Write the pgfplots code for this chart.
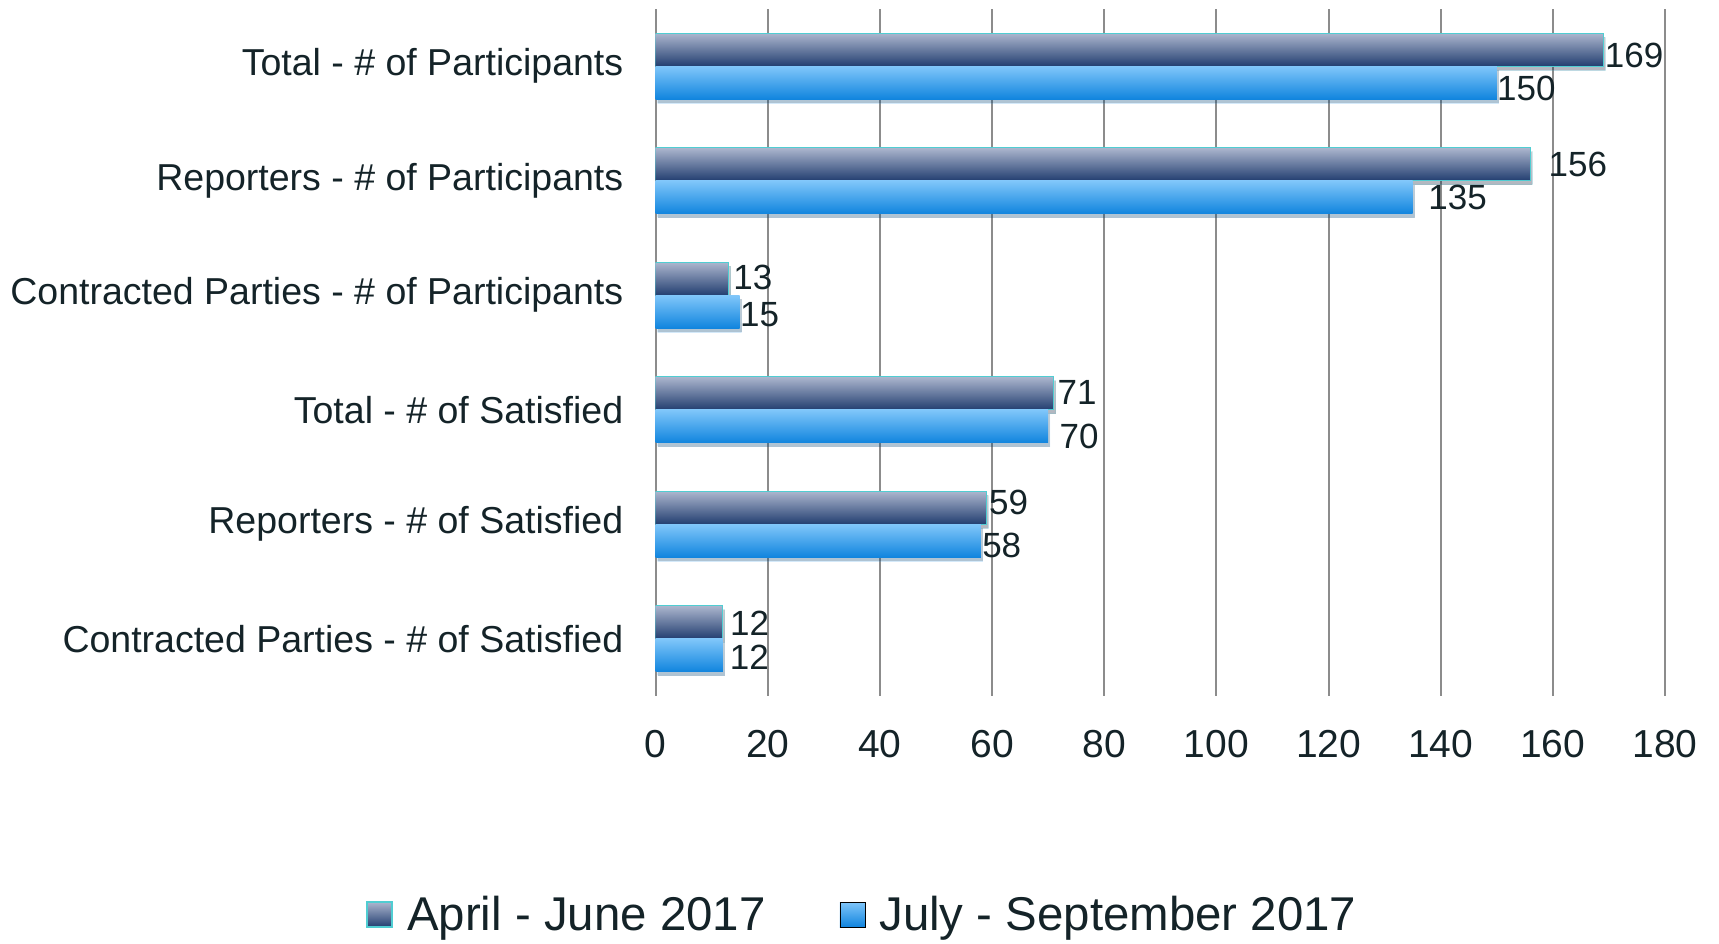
\documentclass[border=0pt]{standalone}
\usepackage{pgfplots}
\pgfplotsset{compat=1.18}
\usepackage{fontspec}
\setmainfont{Liberation Sans}
\definecolor{txt}{RGB}{20,35,40}
\definecolor{gridc}{RGB}{140,140,140}
\definecolor{aTop}{RGB}{172,182,206}
\definecolor{aBot}{RGB}{34,62,112}
\definecolor{aEdge}{RGB}{80,205,210}
\definecolor{bTop}{RGB}{128,198,250}
\definecolor{bBot}{RGB}{16,132,222}
\pgfplotsset{
  shad/.style={preaction={fill=black, opacity=0.18, transform canvas={xshift=1pt,yshift=-2pt}}},
  barA/.style={xbar, bar width=16.5pt, bar shift=8.25pt, draw=aEdge, line width=0.6pt, top color=aTop, bottom color=aBot, shad, forget plot},
  barB/.style={xbar, bar width=16.5pt, bar shift=-8.25pt, draw=none, top color=bTop, bottom color=bBot, shad, forget plot},
}

\begin{document}
\begin{tikzpicture}
\begin{axis}[
  at={(327.8pt,123.5pt)}, anchor=south west,
  scale only axis,
  width=504.7pt, height=343.5pt,
  xmin=0, xmax=180,
  ymin=-0.5, ymax=5.5,
  y dir=reverse,
  xtick={0,20,...,180},
  ytick={0,1,2,3,4,5},
  yticklabels={Total - \# of Participants, Reporters - \# of Participants, Contracted Parties - \# of Participants, Total - \# of Satisfied, Reporters - \# of Satisfied, Contracted Parties - \# of Satisfied},
  major tick length=0pt,
  axis line style={draw=none},
  xmajorgrids,
  grid style={gridc, line width=1pt},
  /pgf/number format/assume math mode=true,
  xticklabel style={font=\fontsize{19.5}{22}\selectfont, text=txt, inner sep=0pt, yshift=-17pt},
  yticklabel style={font=\fontsize{18.75}{22}\selectfont, text=txt, inner sep=0pt, xshift=-16pt, yshift=0pt},
  nodes near coords,
  point meta=x,
  every node near coord/.append style={font=\fontsize{17.5}{21}\selectfont, text=txt, anchor=west, inner sep=0pt},
  legend image code/.code={\path[#1,/tikz/.cd] (0pt,-6pt) rectangle (12.5pt,6.5pt);},
  legend style={draw=none, fill=none, font=\fontsize{23.7}{27}\selectfont, text=txt,
    legend columns=2,
    at={(axis description cs:0.5,0)}, anchor=center, xshift=-148.5pt, yshift=-109.5pt,
    /tikz/every odd column/.append style={column sep=5pt},
    /tikz/every even column/.append style={column sep=35pt}},
]
\addlegendimage{draw=aEdge, line width=0.9pt, top color=aTop, bottom color=aBot}
\addlegendentry{April - June 2017}
\addlegendimage{top color=bTop, bottom color=bBot}
\addlegendentry{July - September 2017}
% April - June 2017 (A) and July - September 2017 (B)
\addplot[barA, nodes near coords style={xshift=0.5pt, yshift=5.5pt}] coordinates {(169,0)};
\addplot[barB, nodes near coords style={xshift=0pt, yshift=-10.9pt}] coordinates {(150,0)};
\addplot[barA, nodes near coords style={xshift=8.8pt, yshift=8.25pt}] coordinates {(156,1)};
\addplot[barB, nodes near coords style={xshift=7.7pt, yshift=-8.25pt}] coordinates {(135,1)};
\addplot[barA, nodes near coords style={xshift=2.2pt, yshift=8.75pt}] coordinates {(13,2)};
\addplot[barB, nodes near coords style={xshift=0pt, yshift=-9.85pt}] coordinates {(15,2)};
\addplot[barA, nodes near coords style={xshift=1.6pt, yshift=8.75pt}] coordinates {(71,3)};
\addplot[barB, nodes near coords style={xshift=5.5pt, yshift=-13.15pt}] coordinates {(70,3)};
\addplot[barA, nodes near coords style={xshift=1pt, yshift=10.95pt}] coordinates {(59,4)};
\addplot[barB, nodes near coords style={xshift=0.5pt, yshift=-10.45pt}] coordinates {(58,4)};
\addplot[barA, nodes near coords style={xshift=3.3pt, yshift=7.75pt}] coordinates {(12,5)};
\addplot[barB, nodes near coords style={xshift=3.3pt, yshift=-9.25pt}] coordinates {(12,5)};
\end{axis}
\pgfresetboundingbox
\useasboundingbox (0,0) rectangle (859.5pt,471.5pt);
\end{tikzpicture}
\end{document}
